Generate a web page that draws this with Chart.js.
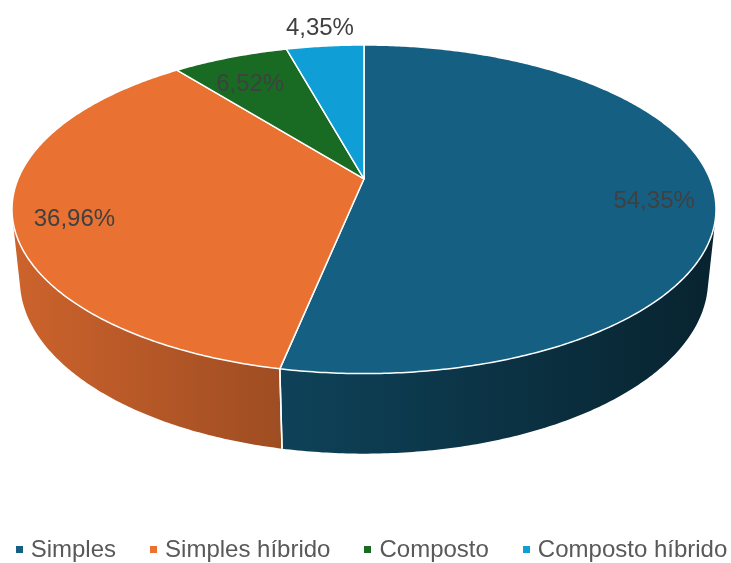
<!DOCTYPE html>
<html>
<head>
<meta charset="utf-8">
<script src="https://cdn.jsdelivr.net/npm/chart.js@4.4.1/dist/chart.umd.min.js"></script>
<style>
  html, body { margin:0; padding:0; background:#fff; }
  #wrap { position:relative; width:731px; height:563px; }
  #legend {
    position:absolute; left:6px; top:535px; width:731px; height:28px;
    display:flex; justify-content:center; align-items:center; gap:34px;
    font:24px "Liberation Sans", Arial, sans-serif; color:#595959; white-space:nowrap;
  }
  #legend .item { display:flex; align-items:center; }
  #legend .box { width:7px; height:7px; margin-right:8px; }
</style>
</head>
<body>
<div id="wrap">
  <canvas id="pieChart"></canvas>
  <div id="legend"></div>
</div>
<script>
// ---- data ----
const categories = ['Simples', 'Simples híbrido', 'Composto', 'Composto híbrido'];
const percentages = [54.35, 36.96, 6.52, 4.35];
const sliceColors = ['#156082', '#E97132', '#196B24', '#0F9ED5'];

// ---- 3D look (camera pitch, distance and thickness in pie radii) ----
const TILT = 27.3 * Math.PI / 180;
const DIST = 4.79;
const DEPTH = 0.232;

function shade(hex, f) {
  const n = parseInt(hex.slice(1), 16);
  const r = Math.round(((n >> 16) & 255) * f);
  const g = Math.round(((n >> 8) & 255) * f);
  const b = Math.round((n & 255) * f);
  return `rgb(${r},${g},${b})`;
}

// perspective projection of a point on the pie (angle, radius fraction, depth below top)
function makeProj(area) {
  const s = Math.sin(TILT), c = Math.cos(TILT);
  const k = c / DIST;
  const f = (area.width / 2) * DIST * Math.sqrt(1 - k * k);
  const cx = (area.left + area.right) / 2;
  const cy = area.top + f * s / (DIST + c);
  return (a, r, h) => {
    const u = r * Math.cos(a), v = r * Math.sin(a);
    const d = DIST + h * s - v * c;
    return { x: cx + f * u / d, y: cy + f * (h * c + v * s) / d };
  };
}

function fmtPct(v) { return v.toFixed(2).replace('.', ',') + '%'; }

const pie3d = {
  id: 'pie3d',
  beforeDatasetsDraw(chart) {
    const ctx = chart.ctx, area = chart.chartArea;
    const meta = chart.getDatasetMeta(0);
    const proj = makeProj(area);
    const aLo = Math.asin(1 / (DIST * Math.cos(TILT)));
    const aHi = Math.PI - aLo;
    const step = 0.01;

    ctx.save();
    // side walls (front part only)
    meta.data.forEach((arc, i) => {
      const a1 = Math.max(arc.startAngle, aLo), a2 = Math.min(arc.endAngle, aHi);
      if (a2 <= a1) return;
      const n = Math.max(2, Math.ceil((a2 - a1) / step));
      ctx.beginPath();
      for (let j = 0; j <= n; j++) {
        const p = proj(a1 + (a2 - a1) * j / n, 1, 0);
        j ? ctx.lineTo(p.x, p.y) : ctx.moveTo(p.x, p.y);
      }
      for (let j = n; j >= 0; j--) {
        const p = proj(a1 + (a2 - a1) * j / n, 1, DEPTH);
        ctx.lineTo(p.x, p.y);
      }
      ctx.closePath();
      const col = sliceColors[i];
      const grad = ctx.createLinearGradient(area.left, 0, area.right, 0);
      grad.addColorStop(0, shade(col, 0.88));
      grad.addColorStop(0.5, shade(col, 0.62));
      grad.addColorStop(1, shade(col, 0.36));
      ctx.fillStyle = grad;
      ctx.fill();
    });
    // white seams on the wall
    ctx.strokeStyle = '#fff';
    ctx.lineWidth = 1.5;
    meta.data.forEach(arc => {
      [arc.startAngle, arc.endAngle].forEach(b => {
        const bb = ((b % (2 * Math.PI)) + 2 * Math.PI) % (2 * Math.PI);
        if (bb > aLo && bb < aHi) {
          const t = proj(bb, 1, 0), u = proj(bb, 1, DEPTH);
          ctx.beginPath(); ctx.moveTo(t.x, t.y); ctx.lineTo(u.x, u.y); ctx.stroke();
        }
      });
    });
    // top faces
    const apex = proj(0, 0, 0);
    ctx.lineJoin = 'round';
    meta.data.forEach((arc, i) => {
      const a1 = arc.startAngle, a2 = arc.endAngle;
      const n = Math.max(2, Math.ceil((a2 - a1) / step));
      ctx.beginPath();
      ctx.moveTo(apex.x, apex.y);
      for (let j = 0; j <= n; j++) {
        const p = proj(a1 + (a2 - a1) * j / n, 1, 0);
        ctx.lineTo(p.x, p.y);
      }
      ctx.closePath();
      ctx.fillStyle = sliceColors[i];
      ctx.fill();
      ctx.stroke();
    });
    ctx.restore();
    return false; // skip the flat default arcs
  },
  afterDraw(chart) {
    // percentage labels
    const ctx = chart.ctx;
    const meta = chart.getDatasetMeta(0);
    const proj = makeProj(chart.chartArea);
    ctx.save();
    ctx.font = '24px "Liberation Sans", Arial, sans-serif';
    ctx.fillStyle = '#404040';
    ctx.textAlign = 'center';
    ctx.textBaseline = 'middle';
    meta.data.forEach((arc, i) => {
      const mid = (arc.startAngle + arc.endAngle) / 2;
      const outside = percentages[i] < 5;
      const p = proj(mid, outside ? 1.16 : 0.83, 0);
      ctx.fillText(fmtPct(percentages[i]), p.x, p.y + (outside ? 0 : 9));
    });
    ctx.restore();
  }
};

// legend
const legendEl = document.getElementById('legend');
categories.forEach((name, i) => {
  const item = document.createElement('div');
  item.className = 'item';
  item.innerHTML = `<span class="box" style="background:${sliceColors[i]}"></span><span>${name}</span>`;
  legendEl.appendChild(item);
});

new Chart(document.getElementById('pieChart'), {
  type: 'pie',
  data: {
    labels: categories,
    datasets: [{ data: percentages, backgroundColor: sliceColors, borderColor: '#fff', borderWidth: 1.5 }]
  },
  options: {
    responsive: true,
    maintainAspectRatio: false,
    animation: false,
    layout: { padding: { left: 12, right: 15, top: 45, bottom: 60 } },
    plugins: { legend: { display: false }, tooltip: { enabled: false } }
  },
  plugins: [pie3d]
});
</script>
</body>
</html>
